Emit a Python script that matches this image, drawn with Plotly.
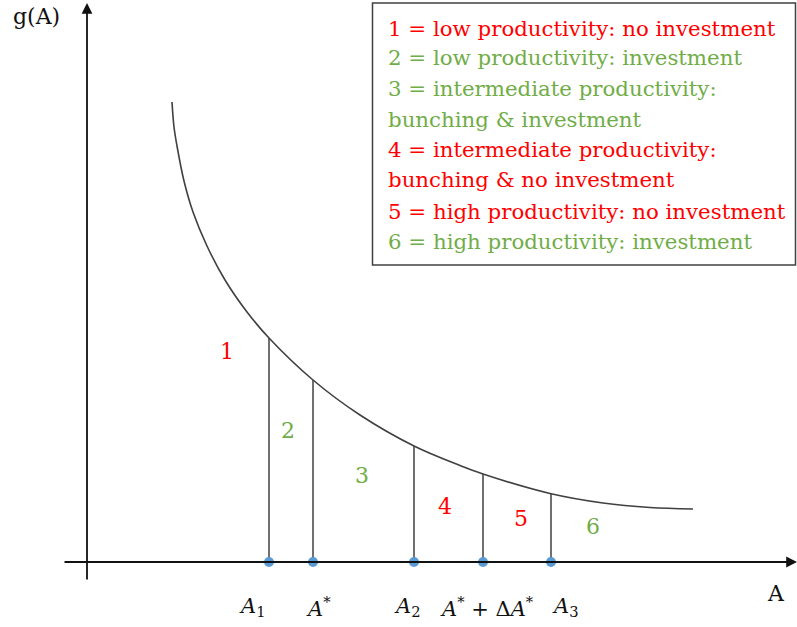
import plotly.graph_objects as go

# ---------------- data (arbitrary units, origin at the axes crossing) ----------------
curve_x = [85, 87, 90, 97, 106, 120, 138, 160, 182, 226, 273, 327, 373, 396, 463, 516, 563, 606]
curve_y = [460, 435, 416, 381, 350, 316, 282, 250, 224, 182, 147, 116, 96.5, 88, 68.5, 59, 54.5, 53]

cut_x = [182, 226, 327, 396, 464]
cut_top = [224, 182, 116, 88, 68]
cut_labels = ["<i>A</i><sub>1</sub>", "<i>A</i><sup>*</sup>", "<i>A</i><sub>2</sub>",
              "<i>A</i><sup>*</sup> + Δ<i>A</i><sup>*</sup>", "<i>A</i><sub>3</sub>"]
cut_label_x = [165, 231, 320, 400, 478]

region_names = ["1", "2", "3", "4", "5", "6"]
region_x = [140, 201, 275, 358, 434, 506]
region_y = [211, 132, 87, 56, 44, 36]
region_kind = ["no", "inv", "inv", "no", "no", "inv"]

legend_lines = [
    "1 = low productivity: no investment",
    "2 = low productivity: investment",
    "3 = intermediate productivity:",
    "bunching & investment",
    "4 = intermediate productivity:",
    "bunching & no investment",
    "5 = high productivity: no investment",
    "6 = high productivity: investment",
]
legend_kind = ["no", "inv", "inv", "inv", "no", "no", "no", "inv"]

RED = "#FF0000"
GREEN = "#70AD47"
COL = {"no": RED, "inv": GREEN}
FONT = "DejaVu Serif"
W, H = 797, 627

fig = go.Figure()

# curve g(A)
fig.add_trace(go.Scatter(x=curve_x, y=curve_y, mode="lines",
                         line=dict(color="#404040", width=1.6, shape="spline", smoothing=1.0),
                         hoverinfo="skip"))

# vertical cut lines
vx, vy = [], []
for x, t in zip(cut_x, cut_top):
    vx += [x, x, None]
    vy += [0, t, None]
fig.add_trace(go.Scatter(x=vx, y=vy, mode="lines",
                         line=dict(color="#404040", width=1.5), hoverinfo="skip"))

# dots on the axis
fig.add_trace(go.Scatter(x=cut_x, y=[0] * len(cut_x), mode="markers",
                         marker=dict(color="#5B9BD5", size=10), hoverinfo="skip"))

annotations = []
# axes with arrows
annotations.append(dict(x=710, y=0, ax=-24, ay=0, xref="x", yref="y", axref="x", ayref="y",
                        text="", showarrow=True, arrowhead=2, arrowsize=1.2, arrowwidth=1.8,
                        arrowcolor="#111111", standoff=0))
annotations.append(dict(x=0, y=559, ax=0, ay=-19, xref="x", yref="y", axref="x", ayref="y",
                        text="", showarrow=True, arrowhead=2, arrowsize=1.2, arrowwidth=1.8,
                        arrowcolor="#111111", standoff=0))

# axis titles
annotations.append(dict(x=689, y=-31, xref="x", yref="y", text="A", showarrow=False,
                        font=dict(family=FONT, size=22, color="#111111")))
annotations.append(dict(x=-51, y=546, xref="x", yref="y", text="g(A)", showarrow=False,
                        font=dict(family=FONT, size=22, color="#111111")))

# cut labels
for x, lab in zip(cut_label_x, cut_labels):
    annotations.append(dict(x=x, y=-45, xref="x", yref="y", text=lab, showarrow=False,
                            font=dict(family=FONT, size=21, color="#111111")))

# region numbers
for n, x, y, k in zip(region_names, region_x, region_y, region_kind):
    annotations.append(dict(x=x, y=y, xref="x", yref="y", text=n, showarrow=False,
                            font=dict(family=FONT, size=22, color=COL[k])))

# legend box text
line_py = [28, 58, 88.5, 119, 149, 180, 211, 241]
for txt, k, py in zip(legend_lines, legend_kind, line_py):
    annotations.append(dict(x=386 / W, y=1 - py / H, xref="paper", yref="paper",
                            xanchor="left", yanchor="middle", text=txt, showarrow=False,
                            font=dict(family=FONT, size=21.3, color=COL[k])))

shapes = [dict(type="rect", xref="paper", yref="paper",
               x0=372.5 / W, x1=795.5 / W, y0=1 - 265 / H, y1=1 - 3 / H,
               line=dict(color="#404040", width=1.5), fillcolor="rgba(0,0,0,0)")]

fig.update_layout(
    width=W, height=H, margin=dict(l=0, r=0, t=0, b=0),
    paper_bgcolor="white", plot_bgcolor="white", showlegend=False,
    xaxis=dict(range=[-87, 710], visible=False, fixedrange=True),
    yaxis=dict(range=[-65, 562], visible=False, fixedrange=True),
    annotations=annotations, shapes=shapes,
)

fig.write_html("out.html", config={"displayModeBar": False},
               post_script="document.body.style.margin='0';document.body.style.overflow='hidden';")
